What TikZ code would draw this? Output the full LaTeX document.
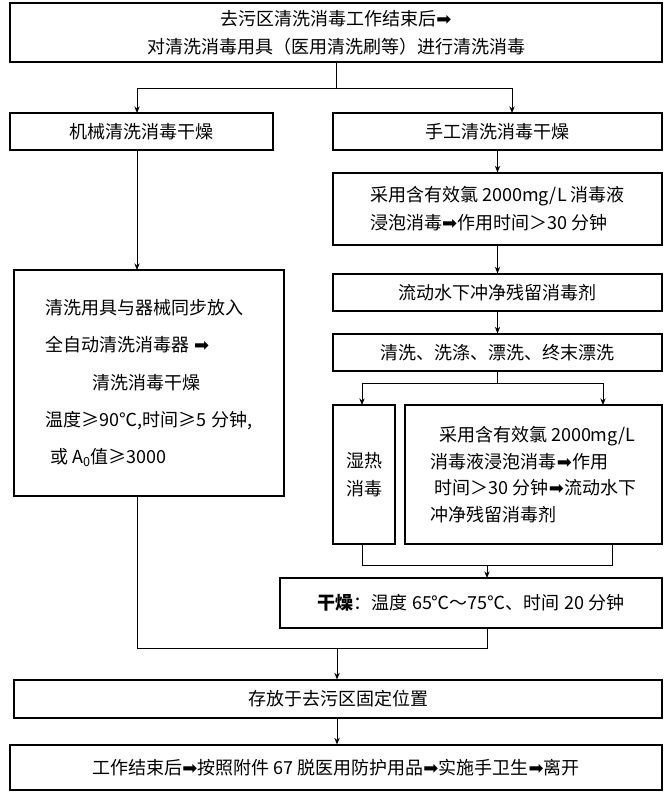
\documentclass[tikz,border=0pt]{standalone}
\usepackage{fontspec}
\setmainfont{Liberation Serif}
\newfontfamily\cjk{Noto Sans CJK SC}
\newfontfamily\sym{DejaVu Sans}
\usetikzlibrary{arrows.meta}
\newcommand{\RA}{{\sym\char"27A1}}
\begin{document}
\begin{tikzpicture}[x=0.75pt,y=-0.75pt,
  box/.style={draw,line width=0.8pt,inner sep=2pt,font=\cjk\fontsize{13.5}{21}\selectfont,align=center},
  arr/.style={line width=0.7pt,-{Stealth[length=5pt,width=4pt]}},
  ln/.style={line width=0.7pt}]
\useasboundingbox (0,0) rectangle (667,803);
\node[box,minimum width=652*0.75pt,minimum height=59*0.75pt] (a) at (336,32.5) {去污区清洗消毒工作结束后\RA\\对清洗消毒用具（医用清洗刷等）进行清洗消毒};
\node[box,minimum width=263*0.75pt,minimum height=37*0.75pt] (b) at (141.5,131.5) {机械清洗消毒干燥};
\node[box,minimum width=329*0.75pt,minimum height=37*0.75pt] (c) at (497.5,131.5) {手工清洗消毒干燥};
\node[box,minimum width=329*0.75pt,minimum height=72*0.75pt,align=left] (d) at (497.5,209) {采用含有效氯 2000mg/L 消毒液\\浸泡消毒\RA 作用时间＞30 分钟};
\node[box,minimum width=329*0.75pt,minimum height=37*0.75pt] (e) at (497.5,292.5) {流动水下冲净残留消毒剂};
\node[box,minimum width=329*0.75pt,minimum height=37*0.75pt] (f) at (497.5,352.5) {清洗、洗涤、漂洗、终末漂洗};
\node[box,minimum width=62*0.75pt,minimum height=139*0.75pt] (g) at (364,474.5) {湿热\\消毒};
\node[box,minimum width=257*0.75pt,minimum height=139*0.75pt,font=\cjk\fontsize{13.5}{20}\selectfont,align=left] (h) at (533.5,474.5) {\ \ 采用含有效氯 2000mg/L\\消毒液浸泡消毒\RA 作用\\\ 时间＞30 分钟\RA 流动水下\\冲净残留消毒剂};
\node[box,minimum width=270*0.75pt,minimum height=226*0.75pt,font=\cjk\fontsize{13.5}{28}\selectfont,align=left] (i) at (149,383) {清洗用具与器械同步放入\\全自动清洗消毒器 \RA\\\hspace{2.6em}清洗消毒干燥\\温度≥90℃,时间≥5 分钟,\\\ 或 A\textsubscript{0}值≥3000};
\node[box,minimum width=382*0.75pt,minimum height=50*0.75pt] (j) at (471,603) {\textbf{干燥}：温度 65℃～75℃、时间 20 分钟};
\node[box,minimum width=648*0.75pt,minimum height=38*0.75pt] (k) at (338,699) {存放于去污区固定位置};
\node[box,minimum width=652*0.75pt,minimum height=45*0.75pt] (l) at (336,767.5) {工作结束后\RA 按照附件 67 脱医用防护用品\RA 实施手卫生\RA 离开};
\coordinate (s1) at (336,88);
\draw[ln] (a.south) -- (s1);
\draw[ln] (137,88) -- (512,88);
\draw[arr] (137,88) -- (137,113);
\draw[arr] (512,88) -- (512,113);
\draw[arr] (137,150) -- (137,270);
\draw[arr] (c.south) -- (d.north);
\draw[arr] (d.south) -- (e.north);
\draw[arr] (e.south) -- (f.north);
\draw[ln] (f.south) -- (497.5,383);
\draw[ln] (362,383) -- (603,383);
\draw[arr] (362,383) -- (362,405);
\draw[arr] (603,383) -- (603,405);
\draw[ln] (362,544) -- (362,565) -- (612,565) -- (612,544);
\draw[arr] (487,565) -- (487,578);
\draw[ln] (137,496) -- (137,648) -- (487,648) -- (487,628);
\draw[arr] (337,648) -- (k.north -| 337,0);
\draw[arr] (k.south -| 337,0) -- (l.north -| 337,0);
\end{tikzpicture}
\end{document}
